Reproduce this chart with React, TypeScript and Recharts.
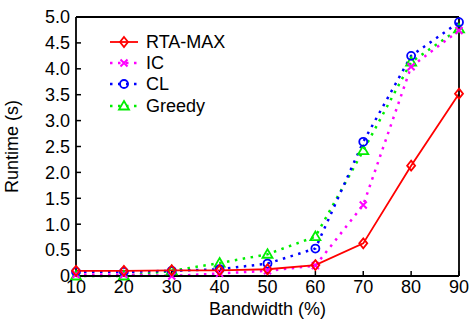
import { LineChart, Line, XAxis, YAxis } from 'recharts'

// Runtime measurements per bandwidth level
const bandwidth = [10, 20, 30, 40, 50, 60, 70, 80, 90]
const rtaMax = [0.1, 0.1, 0.11, 0.11, 0.13, 0.21, 0.63, 2.13, 3.52]
const ic = [0.03, 0.03, 0.0, 0.05, 0.1, 0.2, 1.37, 4.04, 4.74]
const cl = [0.08, 0.08, 0.1, 0.13, 0.24, 0.53, 2.59, 4.25, 4.9]
const greedy = [0.0, 0.0, 0.1, 0.25, 0.42, 0.76, 2.42, 4.13, 4.77]

const xTicks = [10, 20, 30, 40, 50, 60, 70, 80, 90]
const yTicks = [0, 0.5, 1, 1.5, 2, 2.5, 3, 3.5, 4, 4.5, 5]

const data = bandwidth.map((b, i) => ({
  bw: b,
  rta: rtaMax[i],
  ic: ic[i],
  cl: cl[i],
  greedy: greedy[i],
}))

const FONT = '"Liberation Sans", Arial, sans-serif'
const tickStyle = { fill: '#000', fontSize: 18, fontFamily: FONT }
const DOTTED = '2.5 5.5'

type Shape = 'diamond' | 'cross' | 'circle' | 'triangle'

function Marker({ shape, x, y, color }: { shape: Shape; x: number; y: number; color: string }) {
  if (shape === 'diamond')
    return (
      <path
        d={`M${x},${y - 5}L${x + 4},${y}L${x},${y + 5}L${x - 4},${y}Z`}
        fill="none"
        stroke={color}
        strokeWidth={1.8}
      />
    )
  if (shape === 'cross')
    return (
      <path
        d={`M${x - 3.5},${y - 3.5}L${x + 3.5},${y + 3.5}M${x - 3.5},${y + 3.5}L${x + 3.5},${y - 3.5}`}
        stroke={color}
        strokeWidth={2}
      />
    )
  if (shape === 'circle')
    return <circle cx={x} cy={y} r={4} fill="none" stroke={color} strokeWidth={1.8} />
  return (
    <path
      d={`M${x},${y - 5}L${x + 5},${y + 3.5}L${x - 5},${y + 3.5}Z`}
      fill="none"
      stroke={color}
      strokeWidth={1.8}
    />
  )
}

const dotFor = (shape: Shape, color: string) => (props: any) => (
  <Marker key={`${shape}-${props.index}`} shape={shape} x={props.cx} y={props.cy} color={color} />
)

const seriesList = [
  { key: 'rta', name: 'RTA-MAX', color: '#ff0000', shape: 'diamond' as Shape, dash: undefined },
  { key: 'ic', name: 'IC', color: '#ff00ff', shape: 'cross' as Shape, dash: DOTTED },
  { key: 'cl', name: 'CL', color: '#0000ff', shape: 'circle' as Shape, dash: DOTTED },
  { key: 'greedy', name: 'Greedy', color: '#00ee00', shape: 'triangle' as Shape, dash: DOTTED },
]

// legend box drawn over the upper-left of the plot
function LegendBox() {
  return (
    <div style={{ position: 'absolute', left: 110, top: 31, fontFamily: FONT, fontSize: 18, color: '#000' }}>
      {seriesList.map((s) => (
        <div key={s.key} style={{ display: 'flex', alignItems: 'center', height: 21.3 }}>
          <svg width={36} height={14} style={{ overflow: 'visible' }}>
            <line
              x1={0}
              y1={7}
              x2={28}
              y2={7}
              stroke={s.color}
              strokeWidth={s.dash ? 2.5 : 1.8}
              strokeDasharray={s.dash}
            />
            <Marker shape={s.shape} x={14} y={7} color={s.color} />
          </svg>
          <span style={{ lineHeight: 1 }}>{s.name}</span>
        </div>
      ))}
    </div>
  )
}

export default function App() {
  return (
    <div style={{ position: 'absolute', left: 0, top: 0, width: 471, height: 329, background: '#fff' }}>
      <LineChart width={471} height={329} data={data} margin={{ top: 16, right: 11, bottom: 0, left: 0 }}>
        <XAxis
          dataKey="bw"
          type="number"
          domain={[10, 90]}
          ticks={xTicks}
          interval={0}
          height={53}
          tickSize={-5}
          tickMargin={9}
          tick={tickStyle}
          axisLine={{ stroke: '#000', strokeWidth: 1.8 }}
          tickLine={{ stroke: '#000', strokeWidth: 1.5 }}
          label={{ value: 'Bandwidth (%)', position: 'insideBottom', offset: 14, style: { ...tickStyle, textAnchor: 'middle' } }}
        />
        <XAxis
          xAxisId="top"
          orientation="top"
          type="number"
          domain={[10, 90]}
          ticks={xTicks}
          interval={0}
          height={1}
          tickSize={-5}
          tickFormatter={() => ''}
          axisLine={{ stroke: '#000', strokeWidth: 1.8 }}
          tickLine={{ stroke: '#000', strokeWidth: 1.5 }}
        />
        <YAxis
          type="number"
          domain={[0, 5]}
          ticks={yTicks}
          interval={0}
          width={76}
          tickSize={-5}
          tickMargin={11}
          tick={tickStyle}
          tickFormatter={(v: number) => (v === 0 ? '0' : v.toFixed(1))}
          axisLine={{ stroke: '#000', strokeWidth: 1.8 }}
          tickLine={{ stroke: '#000', strokeWidth: 1.5 }}
          label={{ value: 'Runtime (s)', angle: -90, position: 'insideLeft', offset: 12, style: { ...tickStyle, textAnchor: 'middle' } }}
        />
        <YAxis
          yAxisId="right"
          orientation="right"
          type="number"
          domain={[0, 5]}
          ticks={yTicks}
          interval={0}
          width={1}
          tickSize={-5}
          tickFormatter={() => ''}
          axisLine={{ stroke: '#000', strokeWidth: 1.8 }}
          tickLine={{ stroke: '#000', strokeWidth: 1.5 }}
        />
        {seriesList
          .slice()
          .reverse()
          .map((s) => (
            <Line
              key={s.key}
              dataKey={s.key}
              name={s.name}
              stroke={s.color}
              strokeWidth={s.dash ? 2.5 : 1.8}
              strokeDasharray={s.dash}
              type="linear"
              dot={dotFor(s.shape, s.color)}
              activeDot={false}
              isAnimationActive={false}
            />
          ))}
      </LineChart>
      <LegendBox />
    </div>
  )
}
